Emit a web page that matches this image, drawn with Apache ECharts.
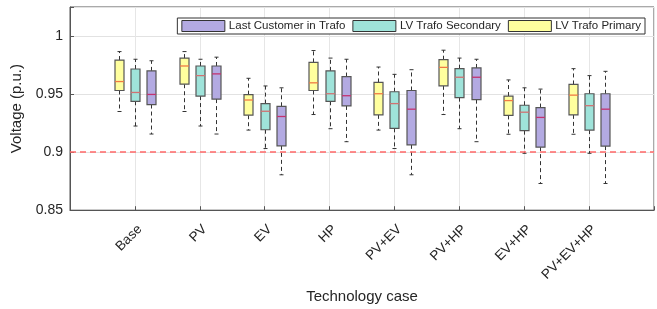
<!DOCTYPE html>
<html>
<head>
<meta charset="utf-8">
<script src="https://cdn.jsdelivr.net/npm/echarts@6/dist/echarts.min.js"></script>
<style>
    html, body { margin: 0; padding: 0; background: #fff; }
    #main { width: 657px; height: 309px; }
</style>
</head>
<body>
<div id="main"></div>
<script>
    // technology cases on the x axis
    var categories = ['Base', 'PV', 'EV', 'HP', 'PV+EV', 'PV+HP', 'EV+HP', 'PV+EV+HP'];
    var yTicks = [0.85, 0.9, 0.95, 1];
    var limit = 0.9;

    // [min, q1, median, q3, max] per case
    var primary = [
        [0.935, 0.9531, 0.9608, 0.9793, 0.9866],
        [0.935, 0.9585, 0.9742, 0.981, 0.9866],
        [0.919, 0.9318, 0.9449, 0.9495, 0.9636],
        [0.9324, 0.9531, 0.9597, 0.9773, 0.9875],
        [0.919, 0.9321, 0.9503, 0.96, 0.9733],
        [0.9324, 0.9571, 0.973, 0.9796, 0.9878],
        [0.9154, 0.9316, 0.9444, 0.9483, 0.9622],
        [0.9154, 0.9321, 0.9491, 0.9583, 0.9719]
    ];
    var secondary = [
        [0.9225, 0.9438, 0.9514, 0.9716, 0.980],
        [0.9225, 0.9483, 0.9659, 0.9742, 0.980],
        [0.9031, 0.9193, 0.9352, 0.9418, 0.957],
        [0.9202, 0.9438, 0.9503, 0.970, 0.981],
        [0.9031, 0.9205, 0.9418, 0.952, 0.967],
        [0.9202, 0.9469, 0.9645, 0.9719, 0.981],
        [0.899, 0.9185, 0.9344, 0.9404, 0.9554],
        [0.899, 0.919, 0.940, 0.9503, 0.9659]
    ];
    var lastCustomer = [
        [0.9156, 0.941, 0.9497, 0.970, 0.9787],
        [0.9156, 0.9457, 0.9674, 0.9742, 0.9818],
        [0.8805, 0.9054, 0.9307, 0.9395, 0.9554],
        [0.909, 0.9398, 0.9486, 0.9651, 0.980],
        [0.8805, 0.9063, 0.937, 0.9531, 0.971],
        [0.909, 0.9452, 0.9645, 0.9725, 0.980],
        [0.873, 0.9043, 0.9299, 0.9384, 0.9543],
        [0.873, 0.9052, 0.937, 0.9503, 0.9696]
    ];

    var font = 'Liberation Sans, Arial, sans-serif';
    var txt = '#262626';

    function toData(rows) {
        return rows.map(function (r, i) { return [i + 1].concat(r); });
    }

    function boxRenderer(offset, fill, medColor) {
        return function (params, api) {
            var x = api.value(0);
            var band = api.size([1, 0])[0];
            var lo = api.coord([x, api.value(1)]);
            var q1 = api.coord([x, api.value(2)]);
            var md = api.coord([x, api.value(3)]);
            var q3 = api.coord([x, api.value(4)]);
            var hi = api.coord([x, api.value(5)]);
            var cx = Math.round(lo[0] + band * offset) + 0.5;
            var hw = 4.5, cw = 2;
            var dash = { stroke: '#333', lineWidth: 1, lineDash: [4, 3] };
            var cap = { stroke: '#333', lineWidth: 1 };
            return {
                type: 'group',
                children: [
                    { type: 'line', shape: { x1: cx, y1: q3[1], x2: cx, y2: hi[1] }, style: dash },
                    { type: 'line', shape: { x1: cx, y1: q1[1], x2: cx, y2: lo[1] }, style: dash },
                    { type: 'line', shape: { x1: cx - cw, y1: hi[1], x2: cx + cw, y2: hi[1] }, style: cap },
                    { type: 'line', shape: { x1: cx - cw, y1: lo[1], x2: cx + cw, y2: lo[1] }, style: cap },
                    { type: 'rect', shape: { x: cx - hw, y: q3[1], width: hw * 2, height: q1[1] - q3[1] },
                      style: { fill: fill, stroke: '#555', lineWidth: 1.2 } },
                    { type: 'line', shape: { x1: cx - hw, y1: md[1], x2: cx + hw, y2: md[1] },
                      style: { stroke: medColor, lineWidth: 1.3 } }
                ]
            };
        };
    }

    function boxSeries(name, rows, offset, fill, medColor) {
        return {
            name: name,
            type: 'custom',
            renderItem: boxRenderer(offset, fill, medColor),
            encode: { x: 0, y: [1, 2, 3, 4, 5] },
            itemStyle: { color: fill, borderColor: '#333', borderWidth: 1 },
            data: toData(rows)
        };
    }

    var chart = echarts.init(document.getElementById('main'));

    var lastSeries = boxSeries('Last Customer in Trafo', lastCustomer, 0.25, '#b3aae2', '#c23470');
    lastSeries.markLine = {
        silent: true,
        symbol: ['none', 'none'],
        label: { show: false },
        lineStyle: { color: '#ff6868', type: [6, 4], width: 1.5 },
        data: [{ yAxis: limit }]
    };

    chart.setOption({
        animation: false,
        textStyle: { fontFamily: font },
        grid: { left: 70, right: 3, top: 7, bottom: 97, show: true, borderColor: '#555', borderWidth: 1 },
        legend: {
            data: ['Last Customer in Trafo', 'LV Trafo Secondary', 'LV Trafo Primary'],
            right: 12,
            top: 18,
            icon: 'rect',
            itemWidth: 43,
            itemHeight: 11,
            itemGap: 7,
            padding: [2, 4],
            backgroundColor: '#fff',
            borderColor: '#333',
            borderWidth: 1,
            borderRadius: 0,
            itemStyle: { borderColor: '#333', borderWidth: 1 },
            textStyle: { fontSize: 11.5, color: txt, fontFamily: font, padding: [0, 0, 0, -1] }
        },
        xAxis: {
            type: 'value',
            min: 0,
            max: 9,
            interval: 1,
            name: 'Technology case',
            nameLocation: 'middle',
            nameGap: 77,
            nameTextStyle: { fontSize: 15, color: txt, fontFamily: font },
            axisLine: { lineStyle: { color: '#555' } },
            axisTick: { inside: true, length: 4, lineStyle: { color: '#555' } },
            splitLine: { show: true, lineStyle: { color: '#e6e6e6' } },
            axisLabel: {
                rotate: 45,
                margin: 12,
                align: 'right',
                verticalAlign: 'top',
                fontSize: 13.5,
                color: txt,
                fontFamily: font,
                formatter: function (v) { return categories[Math.round(v) - 1] || ''; }
            }
        },
        yAxis: {
            type: 'value',
            min: 0.85,
            max: 1.025,
            interval: 0.05,
            name: 'Voltage (p.u.)',
            nameLocation: 'middle',
            nameGap: 35,
            nameTextStyle: { fontSize: 15, color: txt, fontFamily: font },
            axisLine: { show: true, lineStyle: { color: '#555' } },
            axisTick: { inside: true, length: 4, lineStyle: { color: '#555' } },
            splitLine: { show: true, lineStyle: { color: '#e2e2e2' } },
            axisLabel: {
                margin: 7,
                fontSize: 14,
                color: txt,
                fontFamily: font,
                formatter: function (v) {
                    for (var i = 0; i < yTicks.length; i++) {
                        if (Math.abs(v - yTicks[i]) < 1e-6) return String(yTicks[i]);
                    }
                    return '';
                }
            }
        },
        series: [
            lastSeries,
            boxSeries('LV Trafo Secondary', secondary, 0, '#9fe3da', '#d07272'),
            boxSeries('LV Trafo Primary', primary, -0.25, '#ffff9e', '#f07a45')
        ]
    });
</script>
</body>
</html>
